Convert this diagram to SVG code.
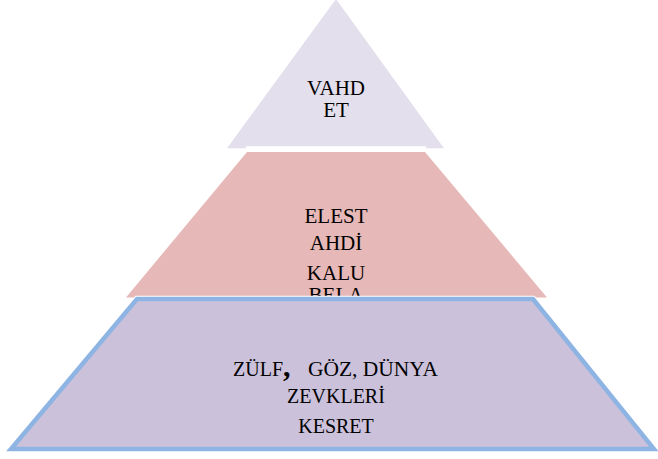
<svg xmlns="http://www.w3.org/2000/svg" width="658" height="459" viewBox="0 0 658 459">
<style>
.t{font-family:'Liberation Serif','DejaVu Serif','Times New Roman',serif;fill:#000;text-anchor:middle}
.s21{font-size:21px}
.s20{font-size:20px}
</style>
<rect width="658" height="459" fill="#fff"/>
<g id="node-vahdet">
<polygon points="336,-1 444,148.3 227,148.3" fill="#E4DFEC"/>
<line x1="246" y1="149.2" x2="426" y2="149.2" stroke="#fff" stroke-width="5.8"/>
<text class="t s21" x="336" y="95">VAHD</text>
<text class="t s21" x="336" y="117">ET</text>
</g>
<g id="node-elest">
<polygon points="247,152 425,152 547,297.5 126,297.5" fill="#E6B8B7"/>
<text class="t s21" x="336" y="223">ELEST</text>
<text class="t s21" x="336" y="250">AHDİ</text>
<text class="t s21" x="336" y="280">KALU</text>
<text class="t s21" x="336" y="302">BELA</text>
</g>
<g id="node-zulf">
<polygon points="137,299 533,299 654,449 11,449" fill="#CCC1DA" stroke="#fff" stroke-width="6.5" stroke-linejoin="miter"/>
<polygon points="137,299 533,299 654,449 11,449" fill="#CCC1DA" stroke="#8EB4E3" stroke-width="4.5" stroke-linejoin="miter"/>
<text class="t s20" x="233" y="376" style="text-anchor:start">ZÜLF<tspan font-size="30" font-weight="bold">,</tspan></text>
<text class="t s20" x="308" y="376" style="text-anchor:start" textLength="130" lengthAdjust="spacingAndGlyphs">GÖZ, DÜNYA</text>
<text class="t s20" x="336" y="403">ZEVKLERİ</text>
<text class="t s20" x="336" y="433">KESRET</text>
</g>
<g id="connectors"></g>
</svg>
